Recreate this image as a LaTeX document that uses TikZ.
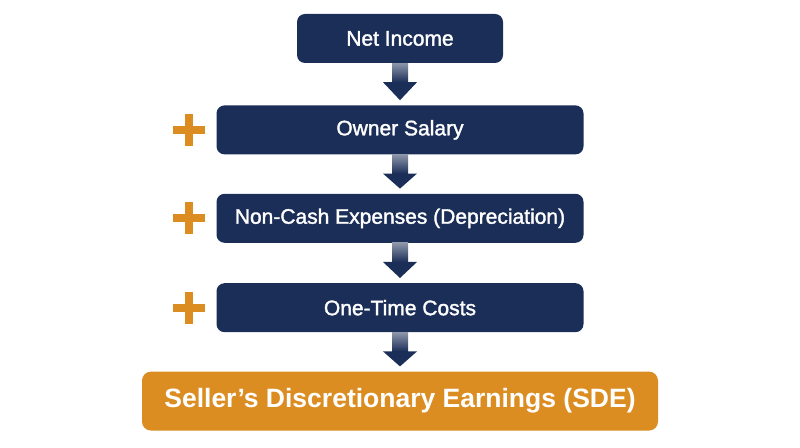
\documentclass[tikz,border=0pt]{standalone}
\usepackage{fontspec}
\setmainfont{Liberation Sans}
\newfontfamily\medfont{Liberation Sans}[FakeBold=1.6]
\usetikzlibrary{positioning,calc}

\definecolor{navy}{HTML}{1B2E57}
\definecolor{sdeorange}{HTML}{DC8D22}
\definecolor{shaftgray}{HTML}{8C96AA}

\tikzset{
  stepbox/.style={fill=navy, rounded corners=8pt, text=white,
    font=\medfont\fontsize{21}{24}\selectfont, minimum height=49pt, inner sep=0pt},
  totalbox/.style={fill=sdeorange, rounded corners=9pt, text=white,
    font=\bfseries\fontsize{26.5}{30}\selectfont, minimum height=59pt,
    minimum width=516pt, inner sep=0pt},
}

% arrow from one box down to the next
\newcommand\blockarrow[2]{%
  \shade[top color=shaftgray, bottom color=navy]
    ($(#1.south)+(-8pt,0)$) rectangle ($(#1.south)+(8pt,-19pt)$);
  \fill[navy] ($(#1.south)+(-17pt,-19pt)$) -- ($(#1.south)+(17pt,-19pt)$)
    -- ($(#2.north)+(0,5pt)$) -- cycle;
}
% orange plus left of a box
\newcommand\plusmark[1]{%
  \fill[sdeorange] ($(#1.west)+(-43pt,-4pt)$) rectangle ($(#1.west)+(-11pt,4pt)$);
  \fill[sdeorange] ($(#1.west)+(-31pt,-16pt)$) rectangle ($(#1.west)+(-23pt,16pt)$);
}

\begin{document}
\begin{tikzpicture}
\useasboundingbox (0,0) rectangle (800pt,447pt);

\node[stepbox, minimum width=206pt] (net) at (400pt,408.5pt) {Net Income};
\node[stepbox, minimum width=367pt, below=42pt of net] (owner) {Owner Salary};
\node[stepbox, minimum width=367pt, below=39pt of owner] (noncash) {Non-Cash Expenses (Depreciation)};
\node[stepbox, minimum width=367pt, below=40pt of noncash] (onetime) {One-Time Costs};
\node[totalbox, below=39pt of onetime] (sde) {Seller’s Discretionary Earnings (SDE)};

\blockarrow{net}{owner}
\blockarrow{owner}{noncash}
\blockarrow{noncash}{onetime}
\blockarrow{onetime}{sde}

\plusmark{owner}
\plusmark{noncash}
\plusmark{onetime}
\end{tikzpicture}
\end{document}
